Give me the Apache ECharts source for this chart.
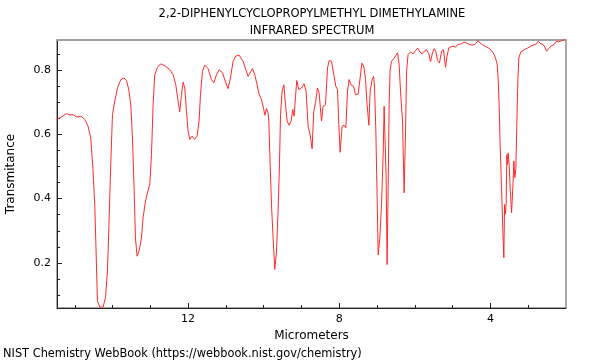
<!DOCTYPE html>
<html>
<head>
<meta charset="utf-8">
<script src="https://cdn.jsdelivr.net/npm/echarts@6/dist/echarts.min.js"></script>
<style>html,body{margin:0;padding:0;background:#fff}#c{width:600px;height:360px}</style>
</head>
<body>
<div id="c"></div>
<script>
// Wavelength (micrometers) of each traced point
var micrometers = [15.485,15.352,15.219,15.133,15.045,15.0,14.955,14.823,14.735,14.648,14.577,14.515,14.471,14.436,14.4,14.338,14.251,14.187,14.134,14.092,14.048,14.002,13.941,13.869,13.782,13.695,13.631,13.571,13.517,13.473,13.43,13.394,13.351,13.298,13.235,13.193,13.128,13.076,13.015,12.970,12.927,12.883,12.811,12.724,12.618,12.486,12.398,12.327,12.266,12.221,12.176,12.133,12.088,12.044,12.001,11.956,11.895,11.832,11.763,11.710,11.673,11.620,11.559,11.472,11.382,11.321,11.249,11.181,11.090,11.003,10.943,10.879,10.810,10.738,10.651,10.545,10.474,10.413,10.368,10.297,10.236,10.175,10.122,10.059,9.997,9.971,9.926,9.884,9.865,9.838,9.794,9.751,9.706,9.661,9.619,9.582,9.555,9.513,9.468,9.423,9.380,9.328,9.275,9.230,9.196,9.158,9.124,9.071,9.0,8.931,8.878,8.825,8.772,8.719,8.675,8.629,8.576,8.534,8.470,8.428,8.365,8.311,8.269,8.206,8.144,8.092,8.047,8.013,7.977,7.925,7.872,7.826,7.782,7.740,7.694,7.660,7.623,7.569,7.501,7.448,7.403,7.351,7.305,7.271,7.217,7.183,7.130,7.092,7.066,7.032,6.998,6.971,6.927,6.881,6.839,6.813,6.786,6.760,6.734,6.706,6.680,6.654,6.617,6.547,6.458,6.416,6.379,6.353,6.326,6.283,6.246,6.220,6.178,6.114,6.045,5.982,5.929,5.868,5.808,5.754,5.691,5.630,5.585,5.533,5.490,5.445,5.400,5.348,5.294,5.241,5.189,5.147,5.102,5.014,4.924,4.855,4.765,4.696,4.590,4.501,4.413,4.325,4.280,4.193,4.103,4.016,3.928,3.865,3.822,3.796,3.769,3.743,3.706,3.671,3.645,3.626,3.610,3.584,3.566,3.547,3.531,3.505,3.478,3.441,3.407,3.380,3.354,3.328,3.301,3.275,3.249,3.195,3.108,3.018,2.930,2.869,2.780,2.737,2.666,2.605,2.561,2.516,2.473,2.402,2.314,2.251,2.190,2.119,2.050,2.005];
// Transmittance at each point
var transmittance = [0.646,0.654,0.664,0.660,0.661,0.664,0.654,0.655,0.646,0.625,0.589,0.485,0.382,0.237,0.082,0.063,0.063,0.092,0.175,0.330,0.506,0.661,0.703,0.744,0.770,0.775,0.767,0.739,0.692,0.589,0.434,0.278,0.221,0.237,0.278,0.340,0.392,0.418,0.444,0.537,0.692,0.785,0.808,0.819,0.813,0.801,0.785,0.754,0.703,0.670,0.723,0.762,0.744,0.672,0.610,0.584,0.594,0.584,0.594,0.641,0.723,0.796,0.815,0.804,0.770,0.760,0.785,0.800,0.791,0.760,0.742,0.775,0.827,0.843,0.846,0.827,0.801,0.780,0.785,0.804,0.785,0.754,0.725,0.708,0.677,0.659,0.680,0.666,0.641,0.537,0.382,0.278,0.180,0.237,0.361,0.506,0.661,0.734,0.754,0.692,0.641,0.628,0.641,0.677,0.656,0.718,0.767,0.739,0.744,0.757,0.734,0.625,0.599,0.555,0.672,0.698,0.744,0.729,0.641,0.687,0.692,0.806,0.829,0.827,0.785,0.749,0.739,0.630,0.544,0.625,0.628,0.620,0.734,0.770,0.754,0.760,0.749,0.723,0.725,0.775,0.821,0.812,0.770,0.703,0.628,0.734,0.770,0.780,0.744,0.610,0.403,0.225,0.278,0.382,0.537,0.687,0.682,0.465,0.195,0.434,0.692,0.801,0.827,0.837,0.853,0.817,0.734,0.739,0.641,0.418,0.610,0.796,0.848,0.856,0.850,0.860,0.868,0.856,0.850,0.858,0.863,0.850,0.825,0.853,0.866,0.858,0.829,0.822,0.858,0.863,0.808,0.843,0.868,0.874,0.871,0.879,0.881,0.887,0.881,0.877,0.879,0.891,0.884,0.877,0.871,0.866,0.853,0.837,0.817,0.775,0.692,0.568,0.434,0.299,0.216,0.382,0.351,0.382,0.537,0.506,0.542,0.506,0.434,0.356,0.434,0.517,0.465,0.490,0.630,0.765,0.837,0.856,0.863,0.868,0.874,0.877,0.881,0.889,0.881,0.879,0.871,0.858,0.863,0.874,0.879,0.889,0.887,0.891,0.894,0.894];
var xMajorTicks = [4, 8, 12];
var xMinorTicks = [3, 5, 6, 7, 9, 10, 11, 13, 14, 15];
var yMajorTicks = [0.2, 0.4, 0.6, 0.8];
var yMinorTicks = [0.1, 0.15, 0.25, 0.3, 0.35, 0.45, 0.5, 0.55, 0.65, 0.7, 0.75, 0.85];

var titleText = '2,2-DIPHENYLCYCLOPROPYLMETHYL DIMETHYLAMINE\nINFRARED SPECTRUM';
var footerText = 'NIST Chemistry WebBook (https://webbook.nist.gov/chemistry)';

var pts = micrometers.map(function (m, i) { return [m, transmittance[i]]; });
var font = 'DejaVu Sans';
var X_MIN = 2.0, X_MAX = 15.47, Y_MIN = 0.06, Y_MAX = 0.893;

var chart = echarts.init(document.getElementById('c'), null, {renderer: 'canvas'});
chart.setOption({
  animation: false,
  backgroundColor: '#fff',
  title: [
    {text: titleText, left: 312, top: 6, textAlign: 'center', padding: 0,
     textStyle: {fontFamily: font, fontSize: 11.5, fontWeight: 'normal', color: '#000', lineHeight: 17}},
    {text: footerText, left: 3, top: 349, padding: 0,
     textStyle: {fontFamily: font, fontSize: 11.4, fontWeight: 'normal', color: '#000'}}
  ],
  grid: {left: 57, right: 34, top: 40, bottom: 52, show: true, borderColor: '#555', borderWidth: 1,
         containLabel: false, outerBoundsMode: 'none'},
  xAxis: [
    {type: 'value', inverse: true, min: X_MIN, max: X_MAX,
     name: 'Micrometers', nameLocation: 'middle', nameGap: 17,
     nameTextStyle: {fontFamily: font, fontSize: 12, color: '#000'},
     axisLine: {show: true, onZero: false, lineStyle: {color: '#222', width: 1}},
     axisTick: {show: true, inside: true, length: 5, customValues: xMajorTicks, lineStyle: {color: '#222'}},
     axisLabel: {customValues: xMajorTicks, fontFamily: font, fontSize: 11, color: '#000', margin: 6},
     splitLine: {show: false}},
    {type: 'value', inverse: true, min: X_MIN, max: X_MAX, position: 'bottom',
     axisLine: {show: false},
     axisTick: {show: true, inside: true, length: 3, customValues: xMinorTicks, lineStyle: {color: '#222'}},
     axisLabel: {show: false}, splitLine: {show: false}},
    {type: 'value', inverse: true, min: X_MIN, max: X_MAX, position: 'top',
     axisLine: {show: true, onZero: false, lineStyle: {color: '#a0a0a0', width: 2}},
     axisTick: {show: false}, axisLabel: {show: false}, splitLine: {show: false}}
  ],
  yAxis: [
    {type: 'value', min: Y_MIN, max: Y_MAX,
     name: 'Transmitance', nameLocation: 'middle', nameGap: 40,
     nameTextStyle: {fontFamily: font, fontSize: 12, color: '#000'},
     axisLine: {show: true, onZero: false, lineStyle: {color: '#222', width: 1}},
     axisTick: {show: true, inside: true, length: 5, customValues: yMajorTicks, lineStyle: {color: '#222'}},
     axisLabel: {customValues: yMajorTicks, fontFamily: font, fontSize: 11, color: '#000', margin: 6,
                 formatter: function (v) { return v.toFixed(1); }},
     splitLine: {show: false}},
    {type: 'value', min: Y_MIN, max: Y_MAX, position: 'left',
     axisLine: {show: false},
     axisTick: {show: true, inside: true, length: 3, customValues: yMinorTicks, lineStyle: {color: '#222'}},
     axisLabel: {show: false}, splitLine: {show: false}}
  ],
  series: [{
    type: 'line', xAxisIndex: 0, yAxisIndex: 0, data: pts,
    showSymbol: false, symbol: 'none', clip: true,
    lineStyle: {color: '#ff2a2a', width: 1}
  }]
});
</script>
</body>
</html>
